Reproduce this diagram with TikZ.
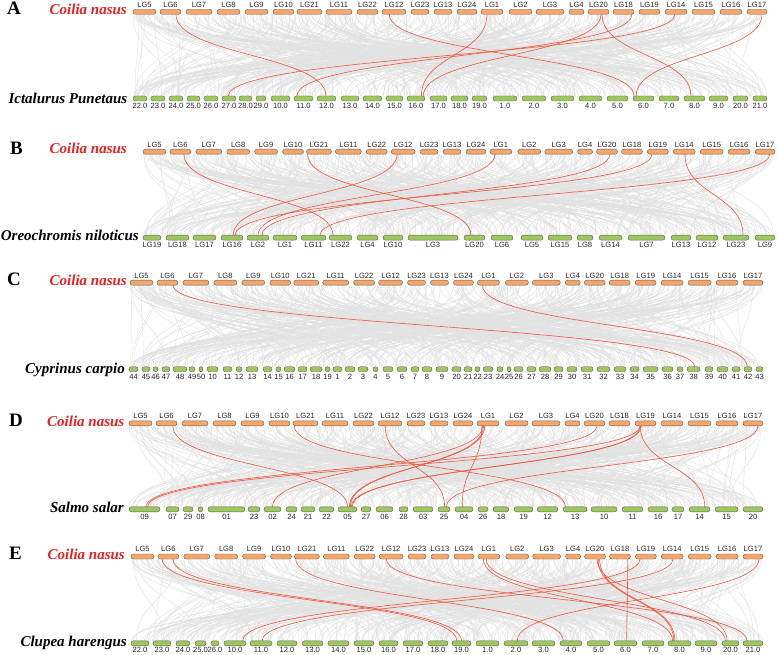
\documentclass[tikz,border=0pt]{standalone}
\usepackage{fontspec}
\setmainfont{Liberation Serif}
\newfontfamily\arialf{Liberation Sans}
\usetikzlibrary{calc}
\definecolor{orfill}{RGB}{246,166,104}
\definecolor{grfill}{RGB}{156,200,92}
\definecolor{bardraw}{RGB}{95,95,95}
\definecolor{redln}{RGB}{238,88,62}
\definecolor{spred}{RGB}{232,32,32}
\definecolor{greyln}{RGB}{226,226,226}
\pgfdeclarelayer{bg}
\pgfsetlayers{bg,main}
\tikzset{
 barbase/.style={draw=bardraw, line width=0.4pt, rounded corners=2.4pt, minimum height=5pt, inner sep=0pt, outer sep=0pt},
 topbar/.style={barbase, fill=orfill},
 botbar/.style={barbase, fill=grfill},
 lab/.style={font=\arialf\fontsize{7.6}{7.6}\selectfont, inner sep=0pt, text=black!85},
 species/.style={font=\fontsize{15}{15}\selectfont\bfseries\itshape, inner sep=0pt, anchor=base east},
 panel/.style={font=\fontsize{19}{19}\selectfont\bfseries, inner sep=0pt, anchor=base west},
 greyl/.style={draw=greyln, line width=0.4pt},
 redlink/.style={draw=redln, line width=0.6pt},
}
\newcommand\toprow[5]{%
 \foreach \n/\a/\b in {LG5/133/156, LG6/160/181, LG7/186/212, LG8/217/240, LG9/245/268, LG10/273/294, LG21/297/322, LG11/326/352, LG22/357/378, LG12/382/406, LG23/411/429, LG13/434/452, LG24/457/477, LG1/481/503, LG2/509/532, LG3/536/564, LG4/569/584, LG20/588/609, LG18/613/634, LG19/639/660, LG14/665/687, LG15/692/715, LG16/720/742, LG17/747/767}{
   \pgfmathsetmacro\xa{#2+(\a-133)/634*(#3-#2)}
   \pgfmathsetmacro\xb{#2+(\b-133)/634*(#3-#2)}
   \pgfmathsetmacro\w{\xb-\xa}
   \pgfmathsetmacro\xc{(\xa+\xb)/2}
   \node[topbar, minimum width=\w pt] (#1t\n) at (\xc,#4) {};
   \node[lab] (#1tl\n) at (\xc,#5) {\n};
 }}
\newcommand\botrow[4]{%
 \foreach \n/\l/\a/\b in {#4}{
   \pgfmathsetmacro\w{\b-\a}
   \pgfmathsetmacro\xc{(\a+\b)/2}
   \node[botbar, minimum width=\w pt] (#1b\n) at (\xc,#2) {};
   \node[lab] (#1bl\n) at (\xc,#3) {\l};
 }}
\newcommand\greys[5]{%
 \pgfmathsetseed{#1}%
 \foreach \i in {1,...,460}{
  \pgfmathsetmacro\xa{#2+rnd*(#3-#2)}
  \pgfmathsetmacro\xb{#2+rnd*(#3-#2)}
  \pgfmathsetmacro\ym{(#4+#5)/2}
  \draw[greyl] (\xa,#4) .. controls (\xa,\ym) and (\xb,\ym) .. (\xb,#5);
 }}
\newcommand\rl[4]{%
 \draw[redlink] let \p1=($(#1.south west)!#2!(#1.south east)$), \p2=($(#3.north west)!#4!(#3.north east)$), \p3=($(\p1)!0.5!(\p2)$) in (\p1) .. controls (\x1,\y3) and (\x2,\y3) .. (\p2);}
\begin{document}
\begin{tikzpicture}[x=1pt,y=-1pt]
\useasboundingbox (0,0) rectangle (777,655);
% ---------- Panel A
\node[panel] (pA) at (7,15) {A};
\node[species, text=spred] (nA1) at (127,15) {Coilia nasus};
\node[species] (nA2) at (127.5,103.5) {Ictalurus Punetaus};
\toprow{A}{133}{767}{11.8}{5}
\botrow{A}{98.5}{106}{22/22.0/133/147, 23/23.0/151/165, 24/24.0/169/183, 25/25.0/187/200, 26/26.0/204/218, 27/27.0/222/236, 28/28.0/239/252, 29/29.0/256/266, 10/10.0/271/290, 11/11.0/294/313, 12/12.0/317/336, 13/13.0/341/359, 14/14.0/363/382, 15/15.0/386/403, 16/16.0/407/425, 17/17.0/430/447, 18/18.0/451/468, 19/19.0/472/487, 1/1.0/493/517, 2/2.0/522/546, 3/3.0/551/574, 4/4.0/579/602, 5/5.0/607/628, 6/6.0/633/654, 7/7.0/659/679, 8/8.0/684/705, 9/9.0/709/728, 20/20.0/733/748, 21/21.0/753/767}
% ---------- Panel B
\node[panel] (pB) at (10,155) {B};
\node[species, text=spred] (nB1) at (127,154) {Coilia nasus};
\node[species] (nB2) at (139,241) {Oreochromis niloticus};
\toprow{B}{143}{775}{151.7}{144.5}
\botrow{B}{237.7}{245.3}{LG19/LG19/143/161, LG18/LG18/166/189, LG17/LG17/193/216, LG16/LG16/221/243, LG2/LG2/247/269, LG1/LG1/273/297, LG11/LG11/301/326, LG22/LG22/329/352, LG4/LG4/357/378, LG10/LG10/383/403, LG3/LG3/408/458, LG20/LG20/464/485, LG6/LG6/491/513, LG5/LG5/521/543, LG15/LG15/548/572, LG8/LG8/577/593, LG14/LG14/599/622, LG7/LG7/628/665, LG13/LG13/671/691, LG12/LG12/696/718, LG23/LG23/723/749, LG9/LG9/755/775}
% ---------- Panel C
\node[panel] (pC) at (7,286) {C};
\node[species, text=spred] (nC1) at (127,286) {Coilia nasus};
\node[species] (nC2) at (125,373.3) {Cyprinus carpio};
\toprow{C}{130}{763}{282.7}{275.5}
\botrow{C}{369.2}{376.7}{44/44/129/138, 45/45/142/150, 46/46/153/158, 47/47/162/170, 48/48/173/187, 49/49/189/195, 50/50/199/203, 10/10/207/218, 11/11/223/232, 12/12/236/242, 13/13/246/258, 14/14/263/272, 15/15/276/281, 16/16/284/295, 17/17/298/307, 18/18/310/322, 19/19/325/330, 1/1/333/342, 2/2/345/355, 3/3/358/368, 4/4/373/378, 5/5/383/393, 6/6/397/407, 7/7/411/419, 8/8/422/432, 9/9/436/448, 20/20/452/461, 21/21/464/472, 22/22/475/480, 23/23/483/493, 24/24/497/503, 25/25/507/511, 26/26/514/523, 27/27/527/536, 28/28/539/551, 29/29/554/563, 30/30/567/577, 31/31/581/593, 32/32/597/610, 33/33/614/626, 34/34/630/639, 35/35/643/658, 36/36/662/673, 37/37/677/683, 38/38/687/700, 39/39/705/713, 40/40/717/728, 41/41/732/740, 42/42/744/752, 43/43/756/763}
% ---------- Panel D
\node[panel] (pD) at (9,426.7) {D};
\node[species, text=spred] (nD1) at (124.5,426.7) {Coilia nasus};
\node[species] (nD2) at (124,512) {Salmo salar};
\toprow{D}{129}{763}{423.3}{416.2}
\botrow{D}{509.3}{517}{09/09/129/160, 07/07/166/179, 29/29/183/193, 08/08/198/203, 01/01/208/245, 23/23/248/260, 02/02/264/281, 24/24/286/297, 21/21/301/315, 22/22/319/334, 05/05/338/357, 27/27/361/371, 06/06/376/393, 28/28/399/408, 03/03/413/433, 25/25/438/450, 04/04/455/473, 26/26/478/488, 18/18/493/509, 19/19/514/533, 12/12/537/558, 13/13/563/587, 10/10/591/617, 11/11/622/643, 16/16/648/668, 17/17/672/684, 14/14/689/710, 15/15/715/738, 20/20/743/763}
% ---------- Panel E
\node[panel] (pE) at (9,559) {E};
\node[species, text=spred] (nE1) at (125,559) {Coilia nasus};
\node[species] (nE2) at (127,646.7) {Clupea harengus};
\toprow{E}{131}{763}{556.5}{549.2}
\botrow{E}{643.3}{650.3}{22/22.0/131/149, 23/23.0/153/171, 24/24.0/176/190, 25/25.0/195/206, 26/26.0/211/219, 10/10.0/224/246, 11/11.0/250/272, 12/12.0/277/297, 13/13.0/302/323, 14/14.0/328/349, 15/15.0/354/374, 16/16.0/379/398, 17/17.0/403/423, 18/18.0/428/448, 19/19.0/452/471, 1/1.0/476/499, 2/2.0/504/528, 3/3.0/532/555, 4/4.0/560/582, 5/5.0/587/610, 6/6.0/614/637, 7/7.0/642/664, 8/8.0/668/691, 9/9.0/695/717, 20/20.0/722/739, 21/21.0/743/763}
% ---------- links
\begin{pgfonlayer}{bg}
\fill[white] (0,0) rectangle (777,655);
\greys{11}{133}{767}{14.3}{96}
\greys{22}{143}{775}{154.2}{235.2}
\greys{33}{130}{763}{285.2}{366.7}
\greys{44}{129}{763}{425.8}{506.8}
\greys{55}{131}{763}{559}{640.8}
% A
\rl{AtLG6}{0.76}{Ab12}{0.47}
\rl{AtLG12}{0.3}{Ab6}{0.05}
\rl{AtLG17}{0.75}{Ab6}{0.15}
\rl{AtLG1}{0.27}{Ab16}{0.8}
\rl{AtLG20}{0.62}{Ab16}{0.9}
\rl{AtLG20}{0.67}{Ab8}{0.33}
\rl{AtLG18}{0.9}{Ab11}{0.15}
\rl{AtLG14}{0.45}{Ab27}{0.45}
% B
\rl{BtLG6}{0.67}{BbLG22}{0.17}
\rl{BtLG21}{0.05}{BbLG20}{0.33}
\rl{BtLG12}{0.25}{BbLG16}{0.55}
\rl{BtLG1}{0.23}{BbLG2}{0.5}
\rl{BtLG20}{0.64}{BbLG2}{0.68}
\rl{BtLG19}{0.22}{BbLG16}{0.64}
\rl{BtLG17}{0.74}{BbLG11}{0.76}
\rl{BtLG14}{0.53}{BbLG23}{0.77}
% C
\rl{CtLG6}{0.76}{Cb38}{0.6}
\rl{CtLG1}{0.23}{Cb42}{0.4}
% D
\rl{DtLG6}{0.8}{Db05}{0.5}
\rl{DtLG21}{0.05}{Db13}{0.1}
\rl{DtLG12}{0.3}{Db25}{0.55}
\rl{DtLG1}{0.22}{Db04}{0.4}
\rl{DtLG1}{0.3}{Db05}{0.6}
\rl{DtLG1}{0.35}{Db05}{0.65}
\rl{DtLG1}{0.26}{Db02}{0.5}
\rl{DtLG20}{0.62}{Db09}{0.55}
\rl{DtLG19}{0.25}{Db09}{0.6}
\rl{DtLG19}{0.27}{Db05}{0.7}
\rl{DtLG19}{0.3}{Db05}{0.75}
\rl{DtLG19}{0.25}{Db14}{0.75}
\rl{DtLG17}{0.75}{Db25}{0.7}
% E
\rl{EtLG6}{0.2}{Eb19}{0.25}
\rl{EtLG6}{0.72}{Eb19}{0.5}
\rl{EtLG21}{0.05}{Eb4}{0.15}
\rl{EtLG12}{0.3}{Eb21}{0.2}
\rl{EtLG1}{0.25}{Eb8}{0.2}
\rl{EtLG1}{0.38}{Eb20}{0.2}
\rl{EtLG20}{0.65}{Eb8}{0.25}
\rl{EtLG20}{0.72}{Eb8}{0.3}
\rl{EtLG20}{0.6}{Eb20}{0.3}
\rl{EtLG18}{0.88}{Eb6}{0.55}
\rl{EtLG19}{0.22}{Eb10}{0.85}
\rl{EtLG14}{0.53}{Eb11}{0.55}
\rl{EtLG17}{0.8}{Eb2}{0.55}
\end{pgfonlayer}
\end{tikzpicture}
\end{document}
